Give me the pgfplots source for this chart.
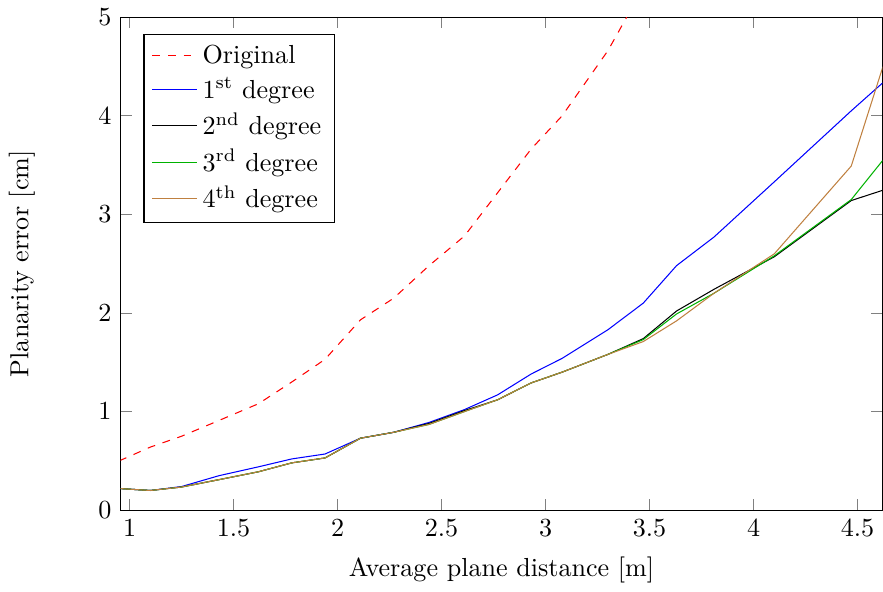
\documentclass[border=0pt]{standalone}
\usepackage{pgfplots}
\pgfplotsset{compat=1.18}
\begin{document}
\begin{tikzpicture}
\begin{axis}[
  scale only axis,
  width=292pt, height=189pt,
  xmin=0.957, xmax=4.62, ymin=0, ymax=5,
  xtick={1,1.5,2,2.5,3,3.5,4,4.5},
  ytick={0,1,2,3,4,5},
  xlabel={Average plane distance [m]},
  ylabel={Planarity error [cm]},
  ylabel shift=17.5pt,
  xlabel shift=1pt,
  legend style={at={(0.03,0.966)},anchor=north west, legend cell align=left},
  every axis plot/.append style={line join=round},
]
\addplot[red, dashed] coordinates {
(0.95,0.50) (1.10,0.64) (1.25,0.75) (1.43,0.91) (1.62,1.08) (1.78,1.30) (1.94,1.53)
(2.11,1.93) (2.27,2.15) (2.44,2.48) (2.61,2.78) (2.77,3.22) (2.93,3.66) (3.08,4.00)
(3.30,4.66) (3.47,5.30)};
\addlegendentry{Original}
\addplot[blue] coordinates {
(0.95,0.22) (1.10,0.20) (1.25,0.24) (1.43,0.35) (1.62,0.44) (1.78,0.52) (1.94,0.57)
(2.11,0.73) (2.27,0.79) (2.44,0.89) (2.61,1.02) (2.77,1.17) (2.93,1.38) (3.08,1.54)
(3.30,1.83) (3.47,2.10) (3.63,2.48) (3.81,2.77) (4.10,3.33) (4.47,4.05) (4.63,4.35)};
\addlegendentry{1\textsuperscript{st} degree}
\addplot[black] coordinates {
(0.95,0.22) (1.10,0.20) (1.25,0.235) (1.43,0.31) (1.62,0.39) (1.78,0.48) (1.94,0.53)
(2.11,0.73) (2.27,0.79) (2.44,0.88) (2.61,1.01) (2.77,1.12) (2.93,1.29) (3.08,1.40)
(3.30,1.58) (3.47,1.74) (3.63,2.02) (3.81,2.24) (4.10,2.57) (4.47,3.14) (4.63,3.25)};
\addlegendentry{2\textsuperscript{nd} degree}
\addplot[green!70!black] coordinates {
(0.95,0.22) (1.10,0.20) (1.25,0.235) (1.43,0.31) (1.62,0.39) (1.78,0.48) (1.94,0.53)
(2.11,0.73) (2.27,0.79) (2.44,0.87) (2.61,1.00) (2.77,1.12) (2.93,1.29) (3.08,1.40)
(3.30,1.58) (3.47,1.73) (3.63,1.99) (3.81,2.20) (4.10,2.58) (4.47,3.15) (4.63,3.57)};
\addlegendentry{3\textsuperscript{rd} degree}
\addplot[brown] coordinates {
(0.95,0.22) (1.10,0.20) (1.25,0.235) (1.43,0.31) (1.62,0.39) (1.78,0.48) (1.94,0.53)
(2.11,0.73) (2.27,0.79) (2.44,0.87) (2.61,1.00) (2.77,1.12) (2.93,1.29) (3.08,1.40)
(3.30,1.58) (3.47,1.71) (3.63,1.92) (3.81,2.20) (4.10,2.60) (4.47,3.49) (4.63,4.55)};
\addlegendentry{4\textsuperscript{th} degree}
\end{axis}
\end{tikzpicture}
\end{document}
